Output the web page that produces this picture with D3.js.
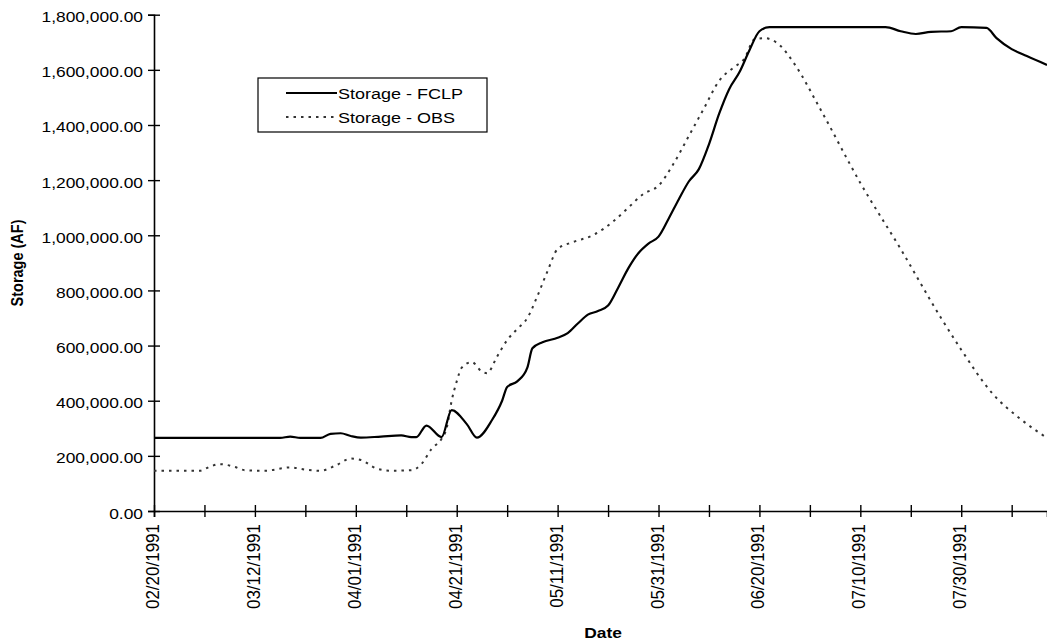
<!DOCTYPE html>
<html>
<head>
<meta charset="utf-8">
<script src="https://cdn.jsdelivr.net/npm/d3@7"></script>
<style>
  body { margin: 0; background: #fff; }
  svg { display: block; font-family: "Liberation Sans", Arial, Helvetica, sans-serif; }
</style>
</head>
<body>
<svg id="chart" width="1047" height="642"></svg>
<script>
// storage, acre-feet
var fclpDates = ["02/20","03/17","03/19","03/21","03/25","03/27","03/29","03/31","04/02","04/06",
  "04/10","04/12","04/13","04/15","04/18","04/20","04/23","04/25","04/28","04/30",
  "05/01","05/03","05/05","05/06","05/08","05/11","05/13","05/15","05/17","05/19",
  "05/21","05/23","05/25","05/27","05/29","05/31","06/02","06/04","06/06","06/08",
  "06/10","06/12","06/14","06/16","06/18","06/20","06/22","07/15","07/18","07/21",
  "07/24","07/28","07/30","08/04","08/06","08/09","08/12","08/16"];
var fclpValues = [265000,265000,270000,265000,265000,280000,282000,272000,266000,270000,
  274000,268000,268000,310000,268000,366000,315000,266000,330000,400000,
  450000,470000,520000,590000,612000,628000,645000,680000,712000,725000,
  745000,810000,880000,935000,970000,995000,1060000,1130000,1195000,1240000,
  1330000,1440000,1530000,1590000,1670000,1740000,1755000,1755000,1740000,1730000,
  1738000,1740000,1755000,1752000,1715000,1675000,1650000,1618000];

var obsDates = ["02/20","03/01","03/03","03/05","03/08","03/10","03/14","03/19","03/22","03/25",
  "03/28","03/31","04/02","04/05","04/08","04/12","04/14","04/16","04/18","04/19",
  "04/20","04/21","04/22","04/24","04/26","04/27","04/29","05/01","05/03","05/05",
  "05/07","05/09","05/11","05/14","05/18","05/22","05/25","05/28","05/31","06/03",
  "06/06","06/09","06/12","06/15","06/17","06/19","06/21","06/24","06/27","07/02",
  "07/10","07/18","07/26","07/30","08/05","08/11","08/16"];
var obsValues = [146000,146000,160000,170000,160000,148000,146000,158000,150000,146000,
  165000,190000,185000,155000,146000,148000,170000,225000,262000,300000,
  400000,470000,520000,540000,505000,500000,560000,620000,660000,700000,
  780000,870000,950000,975000,1000000,1050000,1100000,1150000,1180000,1260000,
  1360000,1460000,1560000,1610000,1640000,1710000,1715000,1690000,1620000,1460000,
  1190000,950000,700000,585000,430000,330000,265000];

var seriesNames = ["Storage - FCLP", "Storage - OBS"];
var yTicks = [0, 200000, 400000, 600000, 800000, 1000000, 1200000, 1400000, 1600000, 1800000];

var parse = d3.timeParse("%m/%d/%Y");
function toRows(dates, values) {
  return dates.map(function(d, i) { return { date: parse(d + "/1991"), value: values[i] }; });
}
var fclp = toRows(fclpDates, fclpValues);
var obs = toRows(obsDates, obsValues);

var start = parse("02/20/1991");
var end = d3.timeDay.offset(start, 177);

var svg = d3.select("#chart");
var plotL = 154, plotR = 1047, plotT = 14.7, plotB = 511;

var x = d3.scaleTime().domain([start, end]).range([plotL, plotR]);
var y = d3.scaleLinear().domain([0, 1800000]).range([plotB, plotT]);

// x ticks every 10 days, labels every 20
var xTickVals = d3.range(0, 180, 10).map(function(n) { return d3.timeDay.offset(start, n); });
var fmtDate = d3.timeFormat("%m/%d/%Y");

var xAxis = svg.append("g")
  .attr("transform", "translate(0," + plotB + ")")
  .call(d3.axisBottom(x).tickValues(xTickVals).tickSize(6).tickFormat(""));
xAxis.select(".domain").attr("stroke", "#000").attr("stroke-width", 1.6);
xAxis.selectAll(".tick line").attr("y1", -6).attr("y2", 6).attr("stroke", "#000").attr("stroke-width", 1.4);

svg.append("g").selectAll("text")
  .data(xTickVals.filter(function(d, i) { return i % 2 === 0; }))
  .enter().append("text")
  .attr("transform", function(d) { return "translate(" + (x(d) + 5) + ",524) rotate(-90) scale(1,1.1)"; })
  .attr("text-anchor", "end")
  .style("font-size", "17px")
  .text(fmtDate);

var yAxis = svg.append("g")
  .attr("transform", "translate(" + plotL + ",0)")
  .call(d3.axisLeft(y).tickValues(yTicks).tickSize(6).tickFormat(""));
yAxis.select(".domain").attr("stroke", "#000").attr("stroke-width", 1.6);
yAxis.selectAll(".tick line").attr("x1", -6).attr("x2", 6).attr("stroke", "#000").attr("stroke-width", 1.4);

var fmtVal = d3.format(",.2f");
svg.append("g").selectAll("text")
  .data(yTicks)
  .enter().append("text")
  .attr("transform", function(d) { return "translate(143," + (y(d) + 7.5) + ") scale(1.2,1)"; })
  .attr("text-anchor", "end")
  .style("font-size", "14.5px")
  .text(fmtVal);

// axis titles
svg.append("text")
  .attr("transform", "translate(23,263) rotate(-90) scale(1,1.2)")
  .attr("text-anchor", "middle")
  .style("font-size", "14.5px")
  .style("font-weight", "bold")
  .text("Storage (AF)");

svg.append("text")
  .attr("transform", "translate(603,638) scale(1.2,1)")
  .attr("text-anchor", "middle")
  .style("font-size", "14.5px")
  .style("font-weight", "bold")
  .text("Date");

var line = d3.line()
  .x(function(d) { return x(d.date); })
  .y(function(d) { return y(d.value); })
  .curve(d3.curveMonotoneX);

svg.append("path")
  .datum(obs)
  .attr("fill", "none")
  .attr("stroke", "#333")
  .attr("stroke-width", 2)
  .attr("stroke-dasharray", "2.5,5")
  .attr("d", line);

svg.append("path")
  .datum(fclp)
  .attr("fill", "none")
  .attr("stroke", "#000")
  .attr("stroke-width", 2.2)
  .attr("d", line);

// legend
var legend = svg.append("g");
legend.append("rect")
  .attr("x", 258).attr("y", 78).attr("width", 229).attr("height", 54)
  .attr("fill", "#fff").attr("stroke", "#000").attr("stroke-width", 1.2);

var legStyles = [{ dash: null, w: 2.2, c: "#000" }, { dash: "2.5,5", w: 2, c: "#333" }];
seriesNames.forEach(function(name, i) {
  var ly = 93 + i * 24;
  legend.append("line")
    .attr("x1", 286).attr("x2", 337).attr("y1", ly).attr("y2", ly)
    .attr("stroke", legStyles[i].c).attr("stroke-width", legStyles[i].w)
    .attr("stroke-dasharray", legStyles[i].dash);
  legend.append("text")
    .attr("transform", "translate(338," + (ly + 5.5) + ") scale(1.2,1)")
    .style("font-size", "15px")
    .text(name);
});
</script>
</body>
</html>
